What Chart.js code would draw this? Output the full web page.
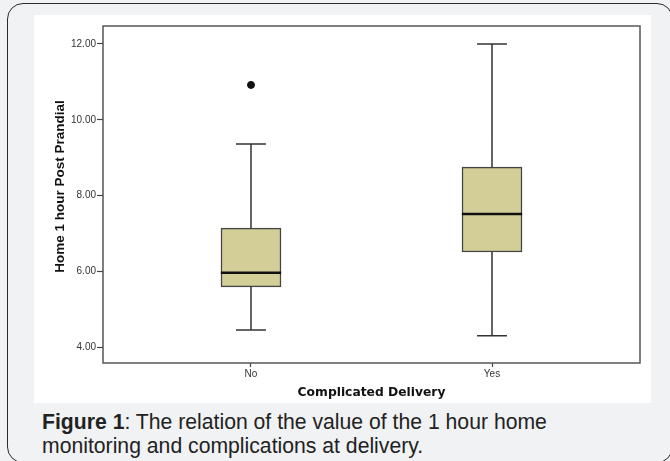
<!DOCTYPE html>
<html>
<head>
<meta charset="utf-8">
<script src="https://cdn.jsdelivr.net/npm/chart.js@4.4.0/dist/chart.umd.min.js"></script>
<style>
html, body { margin: 0; padding: 0; width: 670px; height: 461px; overflow: hidden; background: #f1f2f4; }
.frame { position: absolute; left: 7px; top: 3px; width: 666px; height: 460px; border: 1.5px solid #2b2b2b; border-radius: 16px; box-sizing: border-box; }
.panel { position: absolute; left: 34px; top: 15px; width: 617px; height: 388px; background: #fff; }
.panel canvas { position: absolute; left: 0; top: 0; }
.caption { position: absolute; left: 42px; top: 410px; font-family: 'Liberation Sans', Arial, sans-serif; font-size: 21.2px; line-height: 24px; color: #222; }
</style>
</head>
<body>
<div class="frame"></div>
<div class="panel"><canvas id="chart" width="617" height="388"></canvas></div>
<div class="caption"><b>Figure 1</b>: The relation of the value of the 1 hour home<br>monitoring and complications at delivery.</div>
<script>
// box plot summary
const categories = ['No', 'Yes'];
const whiskerLow = [4.45, 4.30];
const q1 = [5.59, 6.51];
const medians = [5.96, 7.51];
const q3 = [7.14, 8.75];
const whiskerHigh = [9.36, 12.00];
const outlierCategory = [0];
const outlierValue = [10.92];
const yTicks = [4, 6, 8, 10, 12];

const BOX_HALF = 0.125;
const CAP_HALF = 0.062;
const tickFont = { family: 'Liberation Sans, Arial, sans-serif', size: 10 };

// line segments separated by gaps
function segments(list) {
    const pts = [];
    list.forEach(([x1, y1, x2, y2]) => {
        pts.push({ x: x1, y: y1 }, { x: x2, y: y2 }, { x: x2, y: null });
    });
    return pts;
}

const whiskerSegs = [];
categories.forEach((_, i) => {
    whiskerSegs.push([i, q3[i], i, whiskerHigh[i]]);
    whiskerSegs.push([i, q1[i], i, whiskerLow[i]]);
    whiskerSegs.push([i - CAP_HALF, whiskerHigh[i], i + CAP_HALF, whiskerHigh[i]]);
    whiskerSegs.push([i - CAP_HALF, whiskerLow[i], i + CAP_HALF, whiskerLow[i]]);
});
const medianSegs = categories.map((_, i) => [i - BOX_HALF, medians[i], i + BOX_HALF, medians[i]]);

// plot frame + y title (sits a bit above the axis centre in the original)
const framePlugin = {
    id: 'frame',
    afterDraw(chart) {
        const { ctx, chartArea: a } = chart;
        ctx.save();
        ctx.strokeStyle = '#555';
        ctx.lineWidth = 1.5;
        ctx.strokeRect(a.left, a.top, a.right - a.left, a.bottom - a.top);

        ctx.translate(26, (a.top + a.bottom) / 2 - 8);
        ctx.rotate(-Math.PI / 2);
        ctx.fillStyle = '#111';
        ctx.font = 'bold 13.5px "Liberation Sans", Arial, sans-serif';
        ctx.textAlign = 'center';
        ctx.textBaseline = 'middle';
        ctx.fillText('Home 1 hour Post Prandial', 0, 0);
        ctx.restore();
    }
};

new Chart(document.getElementById('chart'), {
    type: 'scatter',
    data: {
        datasets: [
            {
                type: 'bar',
                data: categories.map((_, i) => ({ x: i, y: [q1[i], q3[i]] })),
                backgroundColor: '#d3ce98',
                borderColor: '#444',
                borderWidth: 1.5,
                borderSkipped: false,
                barThickness: 60,
                grouped: false,
                order: 3
            },
            {
                type: 'line',
                data: segments(whiskerSegs),
                borderColor: '#333',
                borderWidth: 1.5,
                pointRadius: 0,
                spanGaps: false,
                order: 2
            },
            {
                type: 'line',
                data: segments(medianSegs),
                borderColor: '#111',
                borderWidth: 2.5,
                pointRadius: 0,
                spanGaps: false,
                order: 1
            },
            {
                type: 'scatter',
                data: outlierCategory.map((c, k) => ({ x: c, y: outlierValue[k] })),
                backgroundColor: '#111',
                borderColor: '#111',
                pointRadius: 3.5,
                order: 0
            }
        ]
    },
    options: {
        responsive: false,
        animation: false,
        devicePixelRatio: 1,
        layout: { padding: { top: 11, right: 11, left: 0, bottom: 0 } },
        plugins: { legend: { display: false }, tooltip: { enabled: false } },
        scales: {
            x: {
                type: 'linear',
                offset: false,
                min: -0.614,
                max: 1.614,
                afterBuildTicks: s => { s.ticks = categories.map((_, i) => ({ value: i })); },
                afterFit: s => { s.height = 40; },
                ticks: {
                    callback: v => categories[v],
                    font: tickFont,
                    color: '#333',
                    padding: 1,
                    autoSkip: false,
                    maxRotation: 0
                },
                grid: { offset: false, drawOnChartArea: false, drawTicks: true, tickLength: 4, tickColor: '#444', tickWidth: 1.2 },
                border: { display: false },
                title: {
                    display: true,
                    text: 'Complicated Delivery',
                    font: { family: 'DejaVu Sans, sans-serif', size: 12.3, weight: 'bold' },
                    color: '#111',
                    padding: { top: 0, bottom: 3 }
                }
            },
            y: {
                type: 'linear',
                min: 3.58,
                max: 12.475,
                afterBuildTicks: s => { s.ticks = yTicks.map(v => ({ value: v })); },
                afterFit: s => { s.width = 69; },
                ticks: {
                    callback: v => v.toFixed(2),
                    font: tickFont,
                    color: '#333',
                    padding: 1
                },
                grid: { drawOnChartArea: false, drawTicks: true, tickLength: 6, tickColor: '#444', tickWidth: 1.2 },
                border: { display: false }
            }
        }
    },
    plugins: [framePlugin]
});
</script>
</body>
</html>
